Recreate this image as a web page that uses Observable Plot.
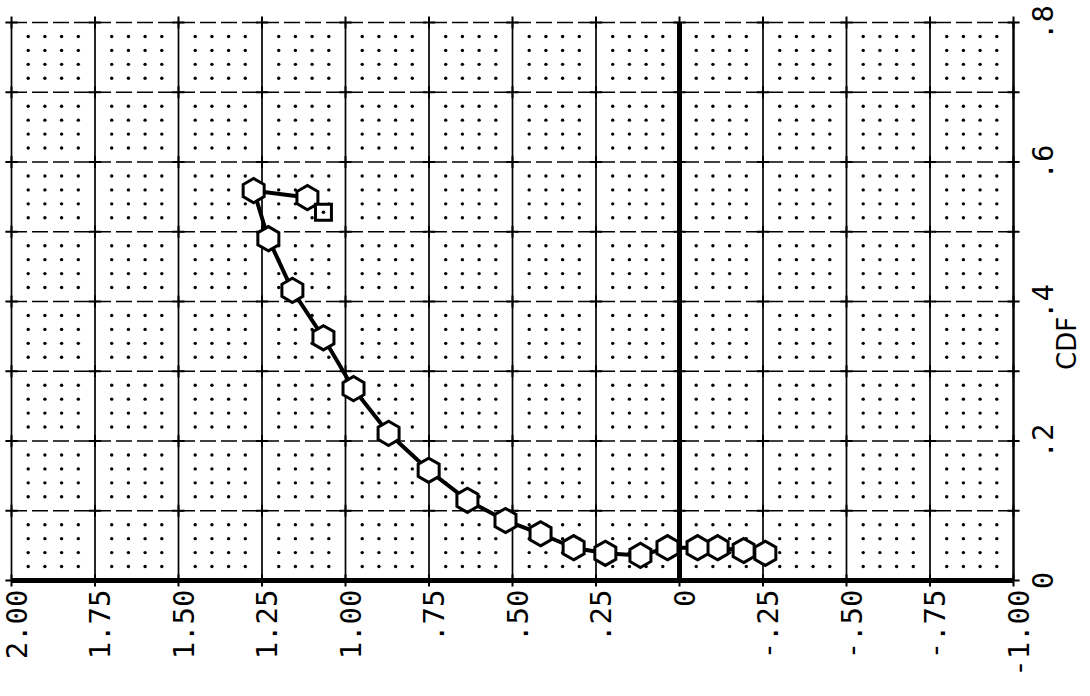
<!DOCTYPE html>
<html><head><meta charset="utf-8">
<script src="https://cdn.jsdelivr.net/npm/d3@7"></script>
<script src="https://cdn.jsdelivr.net/npm/@observablehq/plot@0.6"></script>
<style>body{margin:0;background:#fff}svg{display:block}</style>
</head><body><div id="chart"></div>
<script>
// Axis ticks and labels (x axis is reversed: 2.00 on the left, -1.00 on the right)
const xTicks = [2, 1.75, 1.5, 1.25, 1, 0.75, 0.5, 0.25, 0, -0.25, -0.5, -0.75, -1];
const xTickLabels = ["2.00","1.75","1.50","1.25","1.00",".75",".50",".25","0","-.25","-.50","-.75","-1.00"];
const yGridValues = [0, 0.1, 0.2, 0.3, 0.4, 0.5, 0.6, 0.7, 0.8];
const yTicks = [0, 0.2, 0.4, 0.6, 0.8];
const yTickLabels = ["0", ".2", ".4", ".6", ".8"];
const yAxisTitle = "CDF";
const yAxisTitleAt = 0.34;

// Series, in drawing order
const seriesX   = [-0.257, -0.192, -0.114, -0.054, 0.036, 0.117, 0.222, 0.317, 0.416, 0.521, 0.635, 0.751, 0.871, 0.976, 1.066, 1.159, 1.231, 1.275, 1.114, 1.066];
const seriesCDF = [ 0.039,  0.043,  0.047,  0.047, 0.047, 0.036, 0.039, 0.047, 0.067, 0.086, 0.115, 0.158, 0.211, 0.275, 0.348, 0.416, 0.490, 0.559, 0.549, 0.528];

const pts = seriesX.map((x, i) => ({x, y: seriesCDF[i]}));
const markerPts = pts.slice(0, -1);
const endPt = pts.slice(-1);

// dotted sub-grid (0.05 in x, 0.02 in y), skipping grid lines
const dots = [];
for (let i = 0; i <= 60; i++) {
  if (i % 5 === 0) continue;
  const x = 2 - i * 0.05;
  for (let j = 0; j <= 40; j++) {
    if (j % 5 === 0) continue;
    dots.push({x, y: j * 0.02});
  }
}
const crosses = [];
for (const x of xTicks) for (const y of yGridValues) crosses.push({x, y});

const mono = "DejaVu Sans Mono, monospace";

const chart = Plot.plot({
  width: 1090,
  height: 696,
  marginLeft: 11,
  marginRight: 77,
  marginTop: 22,
  marginBottom: 116,
  x: {domain: [2, -1], axis: null},
  y: {domain: [0, 0.8], axis: null},
  marks: [
    Plot.dot(dots, {x: "x", y: "y", r: 1.7, fill: "black", stroke: "none"}),
    Plot.ruleY(yGridValues, {stroke: "black", strokeWidth: 1.4, strokeDasharray: "16,5"}),
    Plot.ruleX(xTicks, {stroke: "black", strokeWidth: 1.7}),
    Plot.dot(crosses, {x: "x", y: "y", symbol: "plus", r: 4, stroke: "black", strokeWidth: 2}),
    Plot.ruleX([0], {stroke: "black", strokeWidth: 5}),
    Plot.ruleX([-1], {stroke: "black", strokeWidth: 2.2}),
    Plot.ruleY([0], {stroke: "black", strokeWidth: 5}),
    Plot.line(pts, {x: "x", y: "y", stroke: "black", strokeWidth: 4, strokeLinejoin: "round"}),
    Plot.dot(markerPts, {x: "x", y: "y", symbol: "hexagon", r: 10.5, fill: "white", stroke: "black", strokeWidth: 3}),
    Plot.dot(endPt, {x: "x", y: "y", symbol: "square", r: 9, fill: "white", stroke: "black", strokeWidth: 3}),
    Plot.dot(endPt, {x: "x", y: "y", r: 1.8, fill: "black"}),
    Plot.text(xTicks, {x: d => d, text: (d, i) => xTickLabels[i], frameAnchor: "bottom", rotate: -90, textAnchor: "end", dy: 9, dx: 15, fontSize: 29, fontFamily: mono, fill: "black"}),
    Plot.text(yTicks, {y: d => d, text: (d, i) => yTickLabels[i], frameAnchor: "right", rotate: -90, textAnchor: "middle", dx: 30, fontSize: 29, fontFamily: mono, fill: "black"}),
    Plot.text([yAxisTitleAt], {y: d => d, text: () => yAxisTitle, frameAnchor: "right", rotate: -90, textAnchor: "middle", dx: 54, fontSize: 26, fontFamily: "DejaVu Sans, sans-serif", fill: "black"})
  ]
});
document.getElementById("chart").appendChild(chart);
</script>
</body></html>
